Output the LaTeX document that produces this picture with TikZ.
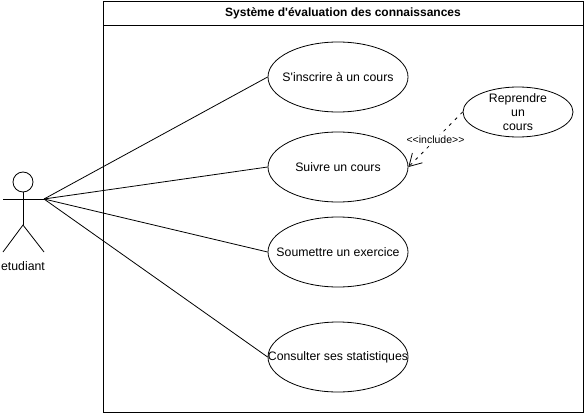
\documentclass[tikz,border=0pt]{standalone}
\usepackage{fontspec}
\setmainfont{Liberation Sans}
\usetikzlibrary{positioning,arrows.meta,shapes.geometric}

\tikzset{
  lbl/.style={font=\fontsize{12.3}{14}\selectfont},
  usecase/.style={draw,ellipse,minimum width=140pt,minimum height=70pt,inner sep=0pt,label={[lbl,align=center]center:#1}},
}

\begin{document}
\begin{tikzpicture}[x=1pt,y=-1pt,>={Straight Barb[length=12pt,width=14pt]},line width=0.8pt]
\useasboundingbox (0,0) rectangle (585,417);
% system frame
\node[draw,minimum width=480pt,minimum height=411pt,inner sep=0pt] (frame) at (343,206.5) {};
\node[draw,minimum width=480pt,minimum height=24pt,inner sep=0pt,font=\fontsize{12}{14}\selectfont\bfseries] (title) at (343,13) {Système d\textquotesingle évaluation des connaissances};
% use cases
\node[usecase={S\textquotesingle inscrire à un cours}] (inscrire) at (338,77) {};
\node[usecase={Suivre un cours}] (suivre) at (338,167) {};
\node[usecase={Soumettre un exercice}] (soumettre) at (338,252) {};
\node[usecase={Consulter ses statistiques}] (consulter) at (338,357) {};
\node[usecase={Reprendre\\un\\cours},minimum width=110pt,minimum height=50pt] (reprendre) at (518,112) {};
% actor
\node[draw,circle,minimum size=20pt,inner sep=0pt] (head) at (23,182) {};
\coordinate (hip) at (23,225);
\coordinate (handl) at (3,199);
\coordinate (handr) at (44,199);
\coordinate (footl) at (3,252);
\coordinate (footr) at (44,252);
\node[lbl] (etudiant) at (23,266) {etudiant};
\draw (head) -- (hip);
\draw (handl) -- (handr);
\draw (footl) -- (hip) -- (footr);
% associations
\draw (handr) -- (inscrire.west);
\draw (handr) -- (suivre.west);
\draw (handr) -- (soumettre.west);
\draw (handr) -- (consulter.west);
\draw[->,dash pattern=on 3pt off 5pt] (reprendre.west) -- node[fill=white,inner sep=1pt,font=\fontsize{10.5}{12}\selectfont] (incl) {<{}<include>{}>} (suivre.east);
\end{tikzpicture}
\end{document}
